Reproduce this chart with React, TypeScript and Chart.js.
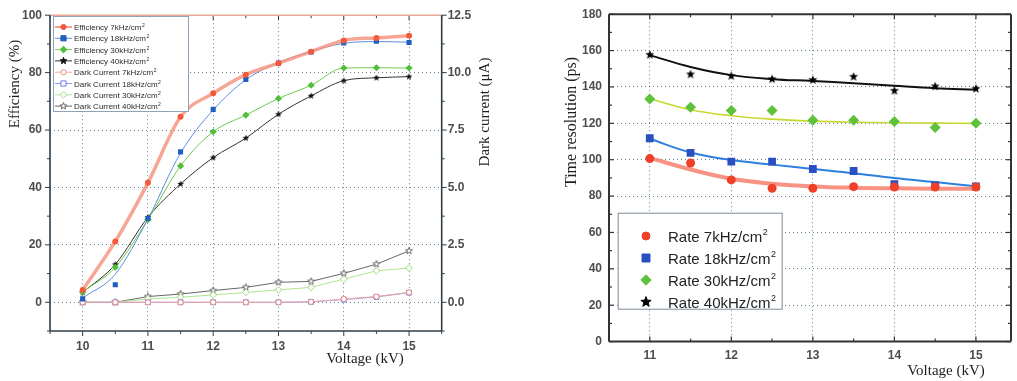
import React, { useEffect, useRef } from 'react';
import { Chart, registerables } from 'chart.js';

Chart.register(...registerables);

// ---------------- Left chart data ----------------
const voltages = [10, 10.5, 11, 11.5, 12, 12.5, 13, 13.5, 14, 14.5, 15];
const eff7 = [4.3, 21.2, 41.6, 64.6, 72.8, 79.3, 83.3, 87.3, 91.2, 92.1, 92.8];
const eff18 = [1.2, 6.1, 29.2, 52.4, 67.2, 77.6, 83.3, 87.2, 90.3, 90.9, 90.5];
const eff18Fit = [1.5, 9.8, 29, 52, 67, 77.5, 83.5, 87.4, 90.2, 90.8, 90.6];
const eff30 = [3.6, 12.2, 28.8, 47.5, 59.4, 65.2, 71.0, 75.6, 81.6, 81.7, 81.6];
const eff40 = [3.4, 13.2, 29.6, 41.2, 50.4, 57.2, 65.5, 71.9, 77.2, 78.2, 78.6];
const dark7 = [0, 0, 0, 0, 0, 0, 0, 0.02, 0.14, 0.25, 0.43];
const dark18 = [0, 0, 0, 0, 0, 0, 0, 0.02, 0.12, 0.23, 0.42];
const dark30 = [0, 0, 0.15, 0.22, 0.32, 0.43, 0.54, 0.65, 1.01, 1.37, 1.49];
const dark40 = [0, 0, 0.25, 0.36, 0.51, 0.65, 0.87, 0.91, 1.26, 1.66, 2.24];
const effTicks = [0, 20, 40, 60, 80, 100];
const darkTicks = [0, 2.5, 5, 7.5, 10, 12.5];
const leftVoltTicks = [10, 11, 12, 13, 14, 15];
const leftLegendLabels = [
  'Efficiency 7kHz/cm',
  'Efficiency 18kHz/cm',
  'Efficiency 30kHz/cm',
  'Efficiency 40kHz/cm',
  'Dark Current 7kHz/cm',
  'Dark Current 18kHz/cm',
  'Dark Current 30kHz/cm',
  'Dark Current 40kHz/cm',
];

// ---------------- Right chart data ----------------
const rateVoltages = [11, 11.5, 12, 12.5, 13, 13.5, 14, 14.5, 15];
const res7 = [100.6, 98.2, 88.9, 84.3, 84.3, 85.2, 85.0, 85.0, 85.0];
const res18 = [111.8, 103.7, 98.9, 98.9, 94.9, 93.8, 86.6, 85.9, 85.4];
const res30 = [133.4, 128.9, 127.1, 127.1, 121.7, 121.7, 121.0, 117.7, 120.0];
const res40 = [157.7, 146.9, 146.0, 144.3, 143.8, 145.6, 137.9, 140.3, 139.0];
const fit7 = [101, 94.6, 89.5, 86.8, 85.3, 84.6, 84.3, 84.1, 84.0];
const fit18 = [111.5, 104, 99.8, 97.3, 94.9, 92.6, 89.9, 87.7, 85.4];
const fit30 = [133.5, 127.5, 124.2, 122.3, 121.2, 120.6, 120.3, 120.1, 120.0];
const fit40 = [157.5, 151, 146.5, 144.3, 143.3, 142, 140.6, 139.3, 138.4];
const resTicks = [0, 20, 40, 60, 80, 100, 120, 140, 160, 180];
const rightVoltTicks = [11, 12, 13, 14, 15];
const rightLegendLabels = ['Rate 7kHz/cm', 'Rate 18kHz/cm', 'Rate 30kHz/cm', 'Rate 40kHz/cm'];

Chart.defaults.font.family = '"Liberation Sans", Arial, sans-serif';

function pts(xs: number[], ys: number[]) {
  return xs.map((x, i) => ({ x, y: ys[i] }));
}

function starPath(ctx: CanvasRenderingContext2D, cx: number, cy: number, R: number) {
  const r = R * 0.42;
  ctx.beginPath();
  for (let i = 0; i < 10; i++) {
    const a = -Math.PI / 2 + (i * Math.PI) / 5;
    const rr = i % 2 === 0 ? R : r;
    ctx.lineTo(cx + rr * Math.cos(a), cy + rr * Math.sin(a));
  }
  ctx.closePath();
}

function starImage(R: number, fill: string | null, stroke: string | null, lw = 1) {
  const s = Math.ceil(2 * R + 2 * lw + 2);
  const c = document.createElement('canvas');
  c.width = s;
  c.height = s;
  const ctx = c.getContext('2d')!;
  starPath(ctx, s / 2, s / 2, R);
  if (fill) {
    ctx.fillStyle = fill;
    ctx.fill();
  }
  if (stroke) {
    ctx.strokeStyle = stroke;
    ctx.lineWidth = lw;
    ctx.stroke();
  }
  return c;
}

function markerPath(ctx: CanvasRenderingContext2D, kind: string, x: number, y: number, r: number) {
  ctx.beginPath();
  if (kind === 'circle') ctx.arc(x, y, r, 0, Math.PI * 2);
  else if (kind === 'square') ctx.rect(x - r, y - r, 2 * r, 2 * r);
  else if (kind === 'diamond') {
    const d = r * 1.3;
    ctx.moveTo(x, y - d);
    ctx.lineTo(x + d, y);
    ctx.lineTo(x, y + d);
    ctx.lineTo(x - d, y);
    ctx.closePath();
  } else starPath(ctx, x, y, r * 1.35);
}

type LegendItem = { label: string; kind: string; fill: string | null; stroke: string; line?: string; lineWidth?: number };

function makeDecor(cfg: any) {
  return {
    id: 'decor',
    afterDraw(chart: any) {
      const ctx: CanvasRenderingContext2D = chart.ctx;
      const a = chart.chartArea;
      ctx.save();
      // minor/major tick marks
      for (const t of cfg.ticks) {
        const sc = chart.scales[t.scale];
        const start = Math.ceil((sc.min - 1e-9) / t.minor) * t.minor;
        ctx.strokeStyle = cfg.axisColor;
        ctx.lineWidth = cfg.tickWidth;
        for (let v = start; v <= sc.max + 1e-9; v += t.minor) {
          const q = v / t.major;
          const major = Math.abs(q - Math.round(q)) < 1e-6;
          const len = major ? t.len : t.len * 0.6;
          const p = sc.getPixelForValue(v);
          ctx.beginPath();
          if (t.side === 'bottom') { ctx.moveTo(p, a.bottom); ctx.lineTo(p, a.bottom + t.dir * len); }
          else if (t.side === 'top') { ctx.moveTo(p, a.top); ctx.lineTo(p, a.top - t.dir * len); }
          else if (t.side === 'left') { ctx.moveTo(a.left, p); ctx.lineTo(a.left - t.dir * len, p); }
          else { ctx.moveTo(a.right, p); ctx.lineTo(a.right + t.dir * len, p); }
          ctx.stroke();
        }
      }
      // frame
      for (const f of cfg.frame) {
        ctx.strokeStyle = f.color;
        ctx.lineWidth = f.width;
        ctx.beginPath();
        if (f.side === 'bottom') { ctx.moveTo(a.left, a.bottom); ctx.lineTo(a.right, a.bottom); }
        else if (f.side === 'top') { ctx.moveTo(a.left, a.top); ctx.lineTo(a.right, a.top); }
        else if (f.side === 'left') { ctx.moveTo(a.left, a.top); ctx.lineTo(a.left, a.bottom); }
        else { ctx.moveTo(a.right, a.top); ctx.lineTo(a.right, a.bottom); }
        ctx.stroke();
      }
      // legend
      const L = cfg.legend;
      ctx.fillStyle = '#ffffff';
      ctx.fillRect(L.x, L.y, L.w, L.h);
      ctx.strokeStyle = L.border;
      ctx.lineWidth = 1;
      ctx.strokeRect(L.x + 0.5, L.y + 0.5, L.w, L.h);
      L.items.forEach((it: LegendItem, i: number) => {
        const y = L.rowY0 + i * L.rowDy;
        if (it.line && L.lineX1 > L.lineX0) {
          ctx.strokeStyle = it.line;
          ctx.lineWidth = it.lineWidth || 1;
          ctx.beginPath();
          ctx.moveTo(L.lineX0, y);
          ctx.lineTo(L.lineX1, y);
          ctx.stroke();
        }
        markerPath(ctx, it.kind, L.markerX, y, L.markerR);
        if (it.fill) {
          ctx.fillStyle = it.fill;
          ctx.fill();
        }
        ctx.strokeStyle = it.stroke;
        ctx.lineWidth = 1;
        ctx.stroke();
        ctx.fillStyle = L.color;
        ctx.textAlign = 'left';
        ctx.textBaseline = 'alphabetic';
        ctx.font = L.font;
        ctx.fillText(it.label, L.textX, y + L.baseDy);
        const w = ctx.measureText(it.label).width;
        ctx.font = L.supFont;
        ctx.fillText('2', L.textX + w + 0.5, y + L.baseDy - L.supDy);
      });
      // axis titles
      for (const t of cfg.titles) {
        ctx.save();
        ctx.translate(t.x, t.y);
        if (t.rot) ctx.rotate(t.rot);
        ctx.font = t.font;
        ctx.fillStyle = '#1e1e1e';
        ctx.textAlign = 'center';
        ctx.textBaseline = 'middle';
        ctx.fillText(t.text, 0, 0);
        ctx.restore();
      }
      ctx.restore();
    },
  };
}

const gridColor = 'rgba(70,110,140,0.85)';
const tickFont = { size: 12, weight: 'bold' as const };
const tickColor = '#4d4d4d';

function leftConfig(): any {
  const star40 = starImage(3.6, '#111111', null);
  const starDark = starImage(3.6, '#ffffff', '#6a6a6a', 1);
  const legendItems: LegendItem[] = [
    { label: leftLegendLabels[0], kind: 'circle', fill: '#f25a3a', stroke: '#f25a3a', line: 'rgba(246,150,130,0.9)', lineWidth: 2 },
    { label: leftLegendLabels[1], kind: 'square', fill: '#1f5fbf', stroke: '#1f5fbf', line: '#5b8de0' },
    { label: leftLegendLabels[2], kind: 'diamond', fill: '#4fbf3a', stroke: '#4fbf3a', line: '#7ccf5a' },
    { label: leftLegendLabels[3], kind: 'star', fill: '#111', stroke: '#111', line: '#333' },
    { label: leftLegendLabels[4], kind: 'circle', fill: '#fff', stroke: '#f08a80', line: '#f4a8a0' },
    { label: leftLegendLabels[5], kind: 'square', fill: '#fff', stroke: '#6a7ff0', line: '#8aa0f0' },
    { label: leftLegendLabels[6], kind: 'diamond', fill: '#fff', stroke: '#9edc80', line: '#b8e890' },
    { label: leftLegendLabels[7], kind: 'star', fill: '#fff', stroke: '#666', line: '#666' },
  ];
  const decor = makeDecor({
    axisColor: '#2e3d48',
    tickWidth: 1,
    ticks: [
      { scale: 'x', side: 'bottom', dir: 1, major: 1, minor: 0.5, len: 5 },
      { scale: 'x', side: 'top', dir: -1, major: 1, minor: 0.5, len: 5 },
      { scale: 'y', side: 'left', dir: 1, major: 20, minor: 10, len: 5 },
      { scale: 'y2', side: 'right', dir: 1, major: 2.5, minor: 1.25, len: 5 },
    ],
    frame: [
      { side: 'top', color: '#eaa898', width: 1.5 },
      { side: 'left', color: '#2e3d48', width: 1.6 },
      { side: 'bottom', color: '#2e3d48', width: 1.6 },
      { side: 'right', color: '#2e3d48', width: 1.6 },
    ],
    legend: {
      x: 53, y: 16, w: 135, h: 95, border: '#8fa3b8',
      rowY0: 27, rowDy: 11.3, lineX0: 55, lineX1: 72, markerX: 63.5, markerR: 2.6,
      textX: 74, baseDy: 3, font: '8px "Liberation Sans", Arial', supFont: '5px "Liberation Sans", Arial', supDy: 3,
      color: '#2a2a2a', items: legendItems,
    },
    titles: [
      { text: 'Efficiency (%)', x: 15, y: 84, rot: -Math.PI / 2, font: '15px "Liberation Serif", "Times New Roman", serif' },
      { text: 'Dark current (\u03bcA)', x: 485, y: 112, rot: -Math.PI / 2, font: '15px "Liberation Serif", "Times New Roman", serif' },
      { text: 'Voltage (kV)', x: 365, y: 359, rot: 0, font: '15px "Liberation Serif", "Times New Roman", serif' },
    ],
  });
  return {
    type: 'line',
    data: {
      datasets: [
        { data: pts(voltages, eff7), yAxisID: 'y', showLine: false, pointStyle: 'circle', pointRadius: 3, backgroundColor: '#f25a3a', borderColor: '#f25a3a', borderWidth: 0 },
        { data: pts(voltages, eff18), yAxisID: 'y', showLine: false, pointStyle: 'rect', pointRadius: 3.6, backgroundColor: '#1f5fbf', borderColor: '#1f5fbf', borderWidth: 0 },
        { data: pts(voltages, eff30), yAxisID: 'y', showLine: false, pointStyle: 'rectRot', pointRadius: 3.6, backgroundColor: '#4fbf3a', borderColor: '#4fbf3a', borderWidth: 0 },
        { data: pts(voltages, eff40), yAxisID: 'y', showLine: false, pointStyle: star40, pointRadius: 3.6 },
        { data: pts(voltages, dark7), yAxisID: 'y2', pointStyle: 'circle', pointRadius: 2.6, pointBackgroundColor: '#fff', pointBorderColor: '#f08a80', borderColor: '#f4a0a0', borderWidth: 1, pointBorderWidth: 1, tension: 0 },
        { data: pts(voltages, dark18), yAxisID: 'y2', pointStyle: 'rect', pointRadius: 3.4, pointBackgroundColor: '#fff', pointBorderColor: '#6a7ff0', borderColor: '#8aa0f0', borderWidth: 1, pointBorderWidth: 1, tension: 0 },
        { data: pts(voltages, dark30), yAxisID: 'y2', pointStyle: 'rectRot', pointRadius: 3.4, pointBackgroundColor: '#fff', pointBorderColor: '#9edc80', borderColor: '#b0e48c', borderWidth: 1, pointBorderWidth: 1, tension: 0 },
        { data: pts(voltages, dark40), yAxisID: 'y2', pointStyle: starDark, pointRadius: 3.4, borderColor: '#666', borderWidth: 1, tension: 0 },
        { data: pts(voltages, eff7), yAxisID: 'y', pointRadius: 0, borderColor: 'rgba(246,150,130,0.85)', borderWidth: 3.5, cubicInterpolationMode: 'monotone' },
        { data: pts(voltages, eff18Fit), yAxisID: 'y', pointRadius: 0, borderColor: '#5b8de0', borderWidth: 1, cubicInterpolationMode: 'monotone' },
        { data: pts(voltages, eff30), yAxisID: 'y', pointRadius: 0, borderColor: '#6fc84c', borderWidth: 1, cubicInterpolationMode: 'monotone' },
        { data: pts(voltages, eff40), yAxisID: 'y', pointRadius: 0, borderColor: '#333', borderWidth: 1, cubicInterpolationMode: 'monotone' },
      ],
    },
    options: {
      animation: false,
      responsive: false,
      layout: { padding: { top: 13, left: 0, right: 0, bottom: 0 } },
      plugins: { legend: { display: false }, tooltip: { enabled: false } },
      scales: {
        x: {
          type: 'linear', min: 9.5, max: 15.5,
          afterBuildTicks: (s: any) => { s.ticks = leftVoltTicks.map((v) => ({ value: v })); },
          afterFit: (s: any) => { s.height = 50; },
          grid: { drawTicks: false, color: gridColor, lineWidth: 1 },
          border: { display: false, dash: [1, 3] },
          ticks: { padding: 8, font: tickFont, color: tickColor, maxRotation: 0, autoSkip: false },
        },
        y: {
          type: 'linear', position: 'left', min: -10, max: 100,
          afterBuildTicks: (s: any) => { s.ticks = effTicks.map((v) => ({ value: v })); },
          afterFit: (s: any) => { s.width = 50; },
          grid: { drawTicks: false, color: gridColor, lineWidth: 1 },
          border: { display: false, dash: [1, 3] },
          ticks: { padding: 8, font: tickFont, color: tickColor, autoSkip: false },
        },
        y2: {
          type: 'linear', position: 'right', min: -1.25, max: 12.5,
          afterBuildTicks: (s: any) => { s.ticks = darkTicks.map((v) => ({ value: v })); },
          afterFit: (s: any) => { s.width = 68.3; },
          grid: { display: false, drawTicks: false },
          border: { display: false },
          ticks: { padding: 6, font: tickFont, color: tickColor, autoSkip: false, callback: (v: any) => Number(v).toFixed(1) },
        },
      },
    },
    plugins: [decor],
  };
}

function rightConfig(): any {
  const star = starImage(4.8, '#000000', null);
  const legendItems: LegendItem[] = [
    { label: rightLegendLabels[0], kind: 'circle', fill: '#f0402a', stroke: '#f0402a' },
    { label: rightLegendLabels[1], kind: 'square', fill: '#2a4fc0', stroke: '#2a4fc0' },
    { label: rightLegendLabels[2], kind: 'diamond', fill: '#5fc23a', stroke: '#5fc23a' },
    { label: rightLegendLabels[3], kind: 'star', fill: '#000', stroke: '#000' },
  ];
  const decor = makeDecor({
    axisColor: '#333',
    tickWidth: 1.2,
    ticks: [
      { scale: 'x', side: 'bottom', dir: -1, major: 1, minor: 0.5, len: 5 },
      { scale: 'x', side: 'top', dir: -1, major: 1, minor: 0.5, len: 5 },
      { scale: 'y', side: 'left', dir: -1, major: 20, minor: 10, len: 5 },
      { scale: 'y', side: 'right', dir: -1, major: 20, minor: 10, len: 5 },
    ],
    frame: [
      { side: 'top', color: '#333', width: 2 },
      { side: 'left', color: '#333', width: 2 },
      { side: 'bottom', color: '#333', width: 2 },
      { side: 'right', color: '#333', width: 2 },
    ],
    legend: {
      x: 107.7, y: 212.7, w: 164, h: 96, border: '#7d8c9a',
      rowY0: 236, rowDy: 22, lineX0: 0, lineX1: 0, markerX: 136, markerR: 4,
      textX: 158, baseDy: 5.5, font: '15px "Liberation Sans", Arial', supFont: '9px "Liberation Sans", Arial', supDy: 7,
      color: '#222', items: legendItems,
    },
    titles: [
      { text: 'Time resolution (ps)', x: 62, y: 122, rot: -Math.PI / 2, font: '16px "Liberation Serif", "Times New Roman", serif' },
      { text: 'Voltage (kV)', x: 436, y: 371, rot: 0, font: '15px "Liberation Serif", "Times New Roman", serif' },
    ],
  });
  return {
    type: 'line',
    data: {
      datasets: [
        { data: pts(rateVoltages, res7), showLine: false, pointStyle: 'circle', pointRadius: 4.5, backgroundColor: '#f0402a', borderColor: '#f0402a', borderWidth: 0 },
        { data: pts(rateVoltages, res18), showLine: false, pointStyle: 'rect', pointRadius: 5.5, backgroundColor: '#2a4fc0', borderColor: '#2a4fc0', borderWidth: 0 },
        { data: pts(rateVoltages, res30), showLine: false, pointStyle: 'rectRot', pointRadius: 5.5, backgroundColor: '#5fc23a', borderColor: '#5fc23a', borderWidth: 0 },
        { data: pts(rateVoltages, res40), showLine: false, pointStyle: star, pointRadius: 5 },
        { data: pts(rateVoltages, fit7), pointRadius: 0, borderColor: 'rgba(245,110,90,0.75)', borderWidth: 4, tension: 0.4 },
        { data: pts(rateVoltages, fit18), pointRadius: 0, borderColor: '#2d7fe0', borderWidth: 2, tension: 0.4 },
        { data: pts(rateVoltages, fit30), pointRadius: 0, borderColor: '#c8d830', borderWidth: 1.6, tension: 0.4 },
        { data: pts(rateVoltages, fit40), pointRadius: 0, borderColor: '#111', borderWidth: 2, tension: 0.4 },
      ],
    },
    options: {
      animation: false,
      responsive: false,
      layout: { padding: { top: 8, left: 0, right: 1, bottom: 0 } },
      plugins: { legend: { display: false }, tooltip: { enabled: false } },
      scales: {
        x: {
          type: 'linear', min: 10.5, max: 15.43,
          afterBuildTicks: (s: any) => { s.ticks = rightVoltTicks.map((v) => ({ value: v })); },
          afterFit: (s: any) => { s.height = 39.4; },
          grid: { drawTicks: false, color: gridColor, lineWidth: 1 },
          border: { display: false, dash: [1, 3] },
          ticks: { padding: 7, font: tickFont, color: tickColor, maxRotation: 0, autoSkip: false },
        },
        y: {
          type: 'linear', position: 'left', min: 0, max: 180,
          afterBuildTicks: (s: any) => { s.ticks = resTicks.map((v) => ({ value: v })); },
          afterFit: (s: any) => { s.width = 99; },
          grid: { drawTicks: false, color: gridColor, lineWidth: 1 },
          border: { display: false, dash: [1, 3] },
          ticks: { padding: 7, font: tickFont, color: tickColor, autoSkip: false },
        },
      },
    },
    plugins: [decor],
  };
}

export default function App() {
  const leftRef = useRef<HTMLCanvasElement>(null);
  const rightRef = useRef<HTMLCanvasElement>(null);
  useEffect(() => {
    const c1 = new Chart(leftRef.current as HTMLCanvasElement, leftConfig());
    const c2 = new Chart(rightRef.current as HTMLCanvasElement, rightConfig());
    return () => {
      c1.destroy();
      c2.destroy();
    };
  }, []);
  return (
    <div style={{ position: 'fixed', left: 0, top: 0, width: 1017, height: 381, background: '#ffffff', overflow: 'hidden' }}>
      <canvas ref={leftRef} width={510} height={381} style={{ position: 'absolute', left: 0, top: 0, width: 510, height: 381 }} />
      <canvas ref={rightRef} width={507} height={381} style={{ position: 'absolute', left: 510, top: 0, width: 507, height: 381 }} />
    </div>
  );
}
